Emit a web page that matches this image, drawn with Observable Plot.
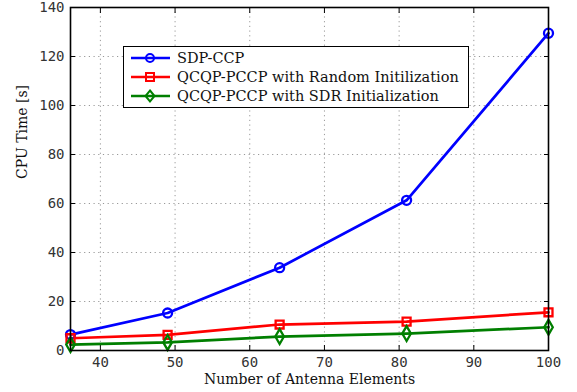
<!DOCTYPE html>
<html><head><meta charset="utf-8">
<script src="https://cdn.jsdelivr.net/npm/d3@7"></script>
<script src="https://cdn.jsdelivr.net/npm/@observablehq/plot@0.6"></script>
<style>
body{margin:0;background:#fff;}
#wrap{position:relative;width:577px;height:392px;}
#legend{position:absolute;left:123px;top:46px;width:346px;height:62px;border:1.4px solid #000;background:#fff;font-family:"DejaVu Serif",serif;font-size:14.5px;color:#111;box-sizing:border-box;}
.row{position:absolute;left:6px;height:19px;display:flex;align-items:center;}
.row svg{margin-right:5px;}
</style>
</head><body>
<div id="wrap"><div id="chart"></div><div id="legend"></div></div>
<script>
const antennas = [36, 49, 64, 81, 100];
const sdpCcp = [6.5, 15.3, 33.8, 61.3, 129.5];
const qcqpRandom = [5.0, 6.4, 10.6, 11.8, 15.6];
const qcqpSdr = [2.4, 3.3, 5.7, 6.9, 9.5];
const seriesNames = ["SDP-CCP", "QCQP-PCCP with Random Initilization", "QCQP-PCCP with SDR Initialization"];
const seriesColors = ["#0000ff", "#ff0000", "#007f00"];
const seriesSymbols = ["circle", "square", "diamond"];
const xTicks = [40, 50, 60, 70, 80, 90, 100];
const yTicks = [0, 20, 40, 60, 80, 100, 120, 140];

const data = [];
[sdpCcp, qcqpRandom, qcqpSdr].forEach((vals, i) => {
  vals.forEach((v, j) => data.push({x: antennas[j], y: v, s: seriesNames[i]}));
});

const chart = Plot.plot({
  width: 577, height: 392,
  marginLeft: 70, marginRight: 29, marginTop: 7, marginBottom: 42,
  style: {fontFamily: "DejaVu Sans Mono, monospace", fontSize: "14px", color: "#333", overflow: "visible"},
  x: {domain: [36, 100], ticks: xTicks},
  y: {domain: [0, 140], ticks: yTicks},
  color: {domain: seriesNames, range: seriesColors},
  symbol: {domain: seriesNames, range: seriesSymbols},
  marks: [
    Plot.gridX(xTicks.filter(t => t < 100), {stroke: "#999", strokeOpacity: 1, strokeDasharray: "1.2,3.5"}),
    Plot.gridY(yTicks.filter(t => t > 0 && t < 140), {stroke: "#999", strokeOpacity: 1, strokeDasharray: "1.2,3.5"}),
    Plot.axisX(xTicks, {tickSize: 0, tickPadding: 7, label: null, fontSize: 14, fill: "#333"}),
    Plot.axisY(yTicks, {tickSize: 0, tickPadding: 6, label: null, fontSize: 14, fill: "#333"}),
    Plot.axisX(xTicks, {anchor: "bottom", tickSize: -5, tickFormat: () => "", label: null, stroke: "#000"}),
    Plot.axisX(xTicks, {anchor: "top", tickSize: -5, tickFormat: () => "", label: null, stroke: "#000"}),
    Plot.axisY(yTicks, {anchor: "left", tickSize: -5, tickFormat: () => "", label: null, stroke: "#000"}),
    Plot.axisY(yTicks, {anchor: "right", tickSize: -5, tickFormat: () => "", label: null, stroke: "#000"}),
    Plot.line(data, {x: "x", y: "y", z: "s", stroke: "s", strokeWidth: 2.7}),
    Plot.dot(data, {x: "x", y: "y", stroke: "s", symbol: "s", r: 4.5, strokeWidth: 2.3, fill: "none"}),
    Plot.frame({stroke: "#000", strokeWidth: 1.6}),
    Plot.text(["Number of Antenna Elements"], {frameAnchor: "bottom", dy: 33, fontFamily: "DejaVu Serif, serif", fontSize: 14, fill: "#111"}),
    Plot.text(["CPU Time [s]"], {frameAnchor: "left", dx: -48, rotate: -90, fontFamily: "DejaVu Serif, serif", fontSize: 14, fill: "#111"})
  ]
});
document.getElementById("chart").appendChild(chart);

const legend = document.getElementById("legend");
const symPath = {
  circle: '<circle cx="20" cy="8" r="4" fill="none" stroke-width="2"/>',
  square: '<rect x="16" y="4" width="8" height="8" fill="none" stroke-width="2"/>',
  diamond: '<path d="M20,2.5 L24.5,8 L20,13.5 L15.5,8 Z" fill="none" stroke-width="2"/>'
};
seriesNames.forEach((name, i) => {
  const row = document.createElement("div");
  row.className = "row";
  row.style.top = (1 + i * 19) + "px";
  row.innerHTML = `<svg width="42" height="16" stroke="${seriesColors[i]}"><line x1="1" y1="8" x2="40" y2="8" stroke-width="2.5"/>${symPath[seriesSymbols[i]]}</svg><span>${name}</span>`;
  legend.appendChild(row);
});
</script>
</body></html>
